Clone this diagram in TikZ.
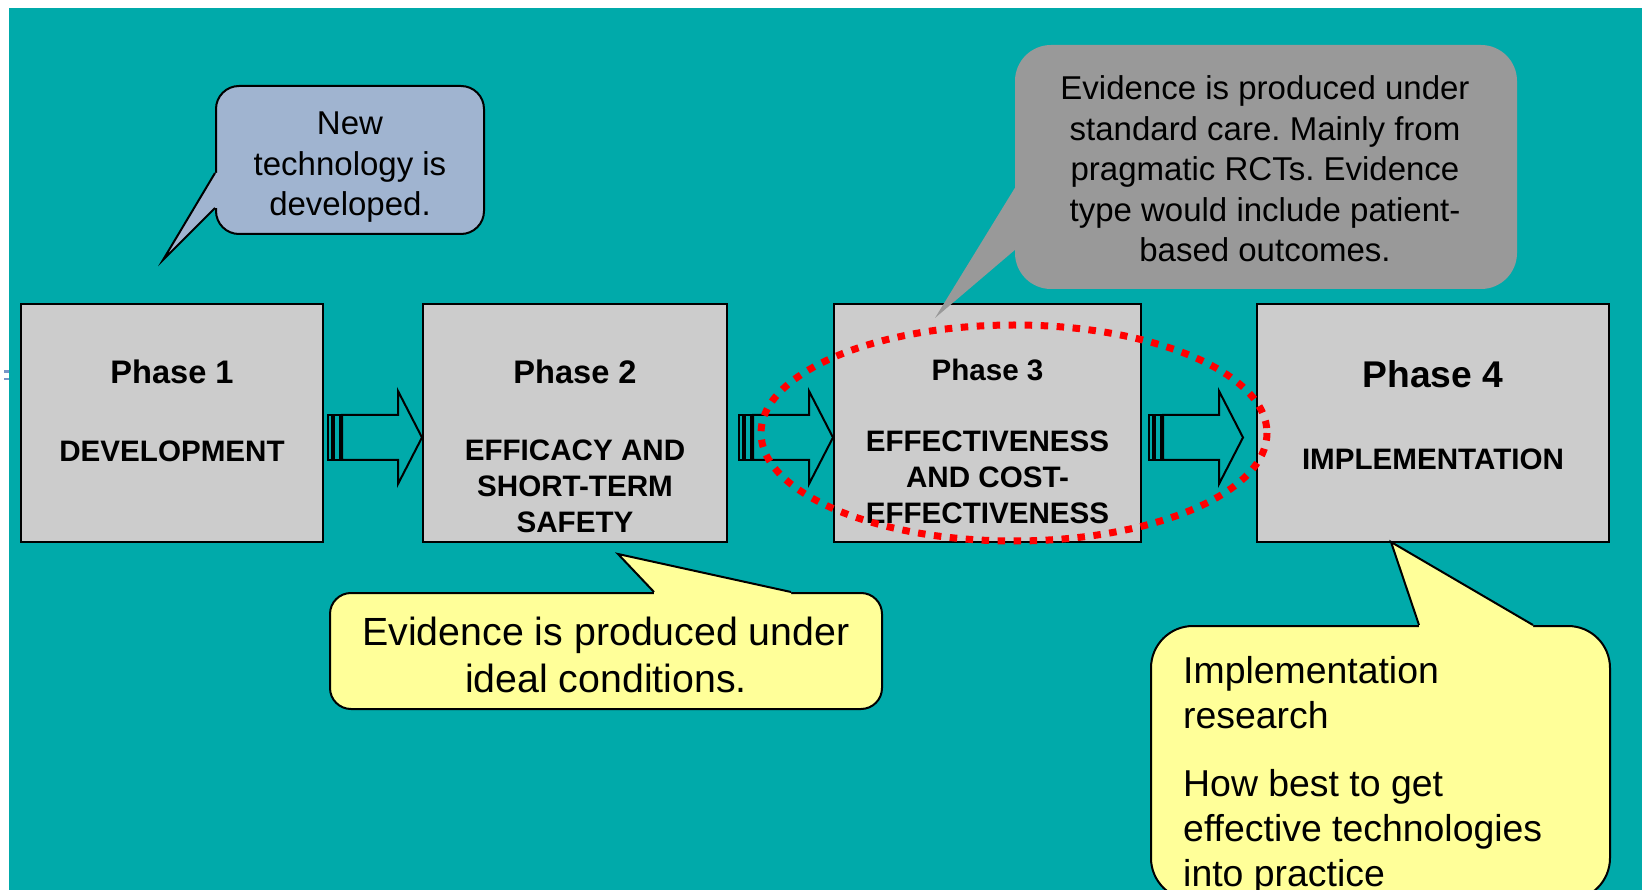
\documentclass[tikz,border=0pt]{standalone}
\usepackage{fontspec}
\setmainfont{Liberation Sans}
\usetikzlibrary{calc}
\frenchspacing
\definecolor{bgteal}{RGB}{0,170,170}
\definecolor{boxgray}{RGB}{204,204,204}
\definecolor{bluecall}{RGB}{160,180,208}
\definecolor{graycall}{RGB}{153,153,153}
\definecolor{yellowcall}{RGB}{255,255,153}
\definecolor{markblue}{RGB}{120,150,200}
\tikzset{
  phasebox/.style={draw=black, line width=2pt, fill=boxgray, rectangle, inner sep=0pt, minimum height=238pt},
  boxtext/.style={anchor=base, inner sep=0pt, align=center, text=black},
  titleA/.style={font=\fontsize{32.6}{36}\bfseries},
  titleB/.style={font=\fontsize{29.6}{36}\bfseries},
  titleC/.style={font=\fontsize{37.2}{40}\bfseries},
  bodybold/.style={font=\fontsize{29.6}{35.6}\bfseries},
  callbox/.style={rectangle, inner sep=0pt},
  tailline/.style={draw=black, line width=2pt, line join=miter},
  blockarrow/.pic={
    \draw[line width=2pt, line join=miter] (-94,-22.5) rectangle (-90.5,22.5);
    \draw[line width=2pt, line join=miter] (-88,-22.5) rectangle (-82,22.5);
    \draw[line width=2pt, line join=miter] (-80,-22.5) -- (-24,-22.5) -- (-24,-46.5) -- (0,0)
      -- (-24,46.5) -- (-24,22.5) -- (-80,22.5) -- cycle;
  }
}
\begin{document}
\begin{tikzpicture}[x=1pt,y=-1pt]
\useasboundingbox (0,0) rectangle (1642,890);
\fill[white] (0,0) rectangle (1642,890);
\fill[bgteal] (9,8) rectangle (1642,890);
\fill[markblue] (4,370) rectangle (9,372.7);
\fill[markblue] (4,377.7) rectangle (9,380.3);

% phase boxes
\node[phasebox, minimum width=302pt] (p1) at (172,423) {};
\node[phasebox, minimum width=304pt] (p2) at (575,423) {};
\node[phasebox, minimum width=307pt] (p3) at (987.5,423) {};
\node[phasebox, minimum width=352pt] (p4) at (1433,423) {};

% (multi-line nodes: base anchor = baseline of the last line)
\node[boxtext, titleA] (t1a) at (172,384) {Phase 1};
\node[boxtext, bodybold] (t1b) at (172,461) {DEVELOPMENT};
\node[boxtext, titleA] (t2a) at (575,384) {Phase 2};
\node[boxtext, bodybold] (t2b) at (575,532) {EFFICACY AND\\SHORT-TERM\\SAFETY};
\node[boxtext, titleB] (t3a) at (987.5,380.3) {Phase 3};
\node[boxtext, font=\fontsize{29.6}{36}\bfseries] (t3b) at (987.5,523.5) {EFFECTIVENESS\\AND COST-\\EFFECTIVENESS};
\node[boxtext, titleC] (t4a) at (1433,388) {Phase 4};
\node[boxtext, bodybold] (t4b) at (1433,469.3) {IMPLEMENTATION};

% block arrows
\pic at ([shift={(0,14.5)}]p2.west) {blockarrow};
\pic at ([shift={(0,14.5)}]p3.west) {blockarrow};
\pic at ([shift={(-13,14.5)}]p4.west) {blockarrow};

% blue callout
\node[callbox, draw=black, line width=2pt, fill=bluecall, minimum width=268pt, minimum height=148pt, rounded corners=23pt] (cb) at (350,160) {};
\coordinate (tipB) at (163,260);
\fill[bluecall] ([shift={(0,13)}]cb.west) -- (tipB) -- ([shift={(0,48)}]cb.west) -- ([shift={(3,48)}]cb.west) -- ([shift={(3,13)}]cb.west) -- cycle;
\draw[tailline] ([shift={(0,13)}]cb.west) -- (tipB) -- ([shift={(0,48)}]cb.west);
\node[boxtext, font=\fontsize{33}{40.5}\selectfont] (tb) at (350,216) {New\\technology is\\developed.};

% gray callout
\node[callbox, fill=graycall, minimum width=502pt, minimum height=244pt, rounded corners=36pt] (cg) at (1266,167) {};
\coordinate (tipG) at (935,318);
\fill[graycall] ([shift={(0,21)}]cg.west) -- (tipG) -- ([shift={(0,83)}]cg.west) -- ([shift={(3,83)}]cg.west) -- ([shift={(3,21)}]cg.west) -- cycle;
\node[boxtext, font=\fontsize{33}{40.6}\selectfont] (tg) at (1265,262) {Evidence is produced under\\standard care. Mainly from\\pragmatic RCTs. Evidence\\type would include patient-\\based outcomes.};

% middle yellow callout
\node[callbox, draw=black, line width=2pt, fill=yellowcall, minimum width=552pt, minimum height=116pt, rounded corners=21pt] (cy) at (606,651) {};
\coordinate (tipY) at (618,554);
\fill[yellowcall] ([shift={(48,0)}]cy.north) -- (tipY) -- ([shift={(185,0)}]cy.north) -- ([shift={(185,3)}]cy.north) -- ([shift={(48,3)}]cy.north) -- cycle;
\draw[tailline] ([shift={(48,0)}]cy.north) -- (tipY) -- ([shift={(185,0)}]cy.north);
\node[boxtext, font=\fontsize{39.3}{47}\selectfont] (ty) at (606,692.5) {Evidence is produced under\\ideal conditions.};

% bottom-right yellow callout
\node[callbox, draw=black, line width=2pt, fill=yellowcall, minimum width=459pt, minimum height=274pt, rounded corners=42pt] (cr) at (1380.5,763) {};
\coordinate (tipR) at (1391,542);
\fill[yellowcall] ([shift={(38.5,0)}]cr.north) -- (tipR) -- ([shift={(152.5,0)}]cr.north) -- ([shift={(152.5,3)}]cr.north) -- ([shift={(38.5,3)}]cr.north) -- cycle;
\draw[tailline] ([shift={(38.5,0)}]cr.north) -- (tipR) -- ([shift={(152.5,0)}]cr.north);
\node[anchor=base west, inner sep=0pt, align=left, font=\fontsize{37.4}{45}\selectfont] (tr) at (1183,886) {Implementation\\research\\[23pt]How best to get\\effective technologies\\into practice};

% red dotted ellipse
\draw[red, line width=7pt, dash pattern=on 7.5pt off 8.5pt] (1014,433) ellipse [x radius=253, y radius=108];
\end{tikzpicture}
\end{document}
